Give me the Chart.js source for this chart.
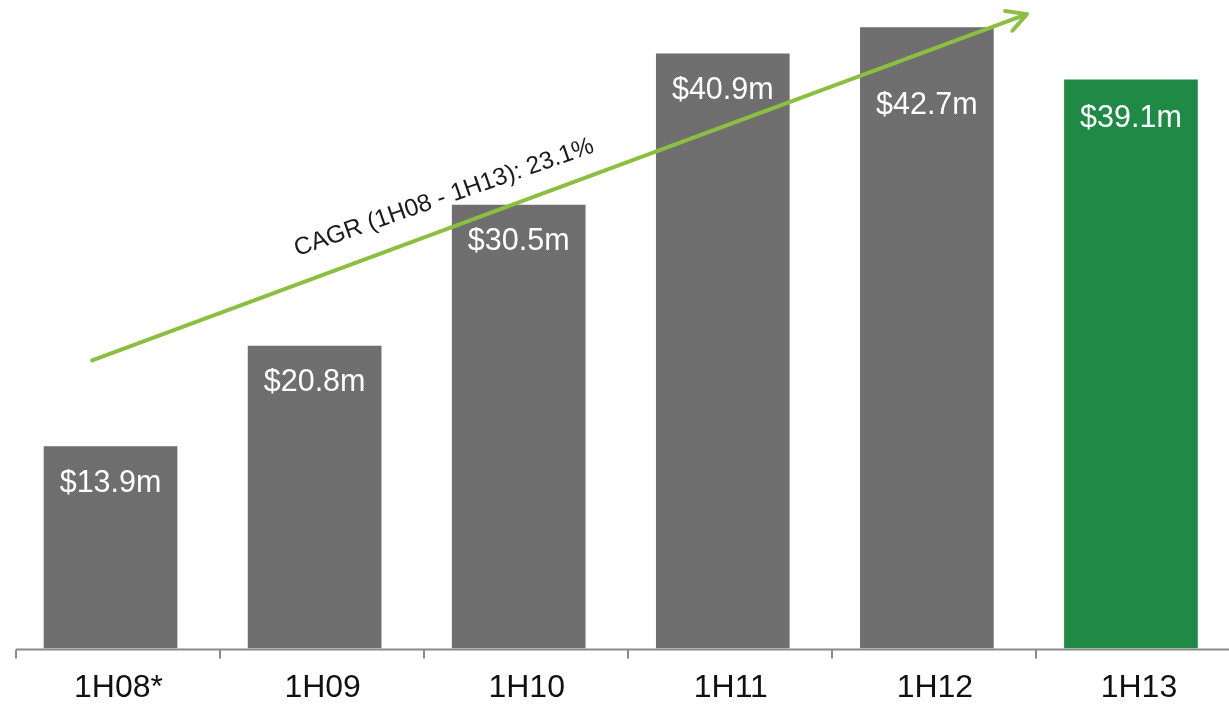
<!DOCTYPE html>
<html>
<head>
<meta charset="utf-8">
<script src="https://cdn.jsdelivr.net/npm/chart.js@4.4.1/dist/chart.umd.min.js"></script>
<style>
  html, body { margin: 0; padding: 0; background: #fff; overflow: hidden; }
  #wrap { position: relative; width: 1240px; height: 704px; }
</style>
</head>
<body>
<div id="wrap"><canvas id="revenueChart"></canvas></div>
<script>
// half-year periods and revenue ($m)
const periods = ["1H08*", "1H09", "1H10", "1H11", "1H12", "1H13"];
const revenue = [13.9, 20.8, 30.5, 40.9, 42.7, 39.1];

// growth arrow, in chart units (category index, $m)
const cagrText = "CAGR (1H08 - 1H13): 23.1%";
const cagrFrom = { x: -0.09, y: 19.8 };
const cagrTo = { x: 4.49, y: 43.6 };
const cagrLabelAt = { x: 1.645, y: 30.55 };

const GREY = "#6e6e6e";
const GREEN = "#1e8a46";
const ARROW = "#8cbf3f";

// fine dithered grey like the printed bars
function greyPattern() {
    const c = document.createElement("canvas");
    c.width = 2; c.height = 2;
    const g = c.getContext("2d");
    g.fillStyle = "#757575"; g.fillRect(0, 0, 2, 2);
    g.fillStyle = "#686868"; g.fillRect(0, 0, 1, 1); g.fillRect(1, 1, 1, 1);
    return g.createPattern(c, "repeat");
}
const pattern = greyPattern();
const barColors = revenue.map((v, i) => i === revenue.length - 1 ? GREEN : pattern);

// axis line with tick marks between periods
const axisPlugin = {
    id: "axisLine",
    afterDatasetsDraw(chart) {
        const { ctx, chartArea, scales } = chart;
        const x = scales.x;
        const step = x.getPixelForValue(1) - x.getPixelForValue(0);
        const start = x.getPixelForValue(0) - step / 2 + 7.5;
        const y = chartArea.bottom + 1;
        ctx.save();
        ctx.strokeStyle = "#8a8a8a";
        ctx.lineWidth = 2;
        ctx.beginPath();
        ctx.moveTo(start, y);
        ctx.lineTo(chart.width, y);
        for (let i = 0; i <= periods.length; i++) {
            const tx = Math.round(start + i * step);
            ctx.moveTo(tx, y);
            ctx.lineTo(tx, y + 9);
        }
        ctx.stroke();
        ctx.restore();
    }
};

// "$xx.xm" labels inside the top of each bar;
// the 1H12 label sits lower so the arrow doesn't run through it
const labelDrop = [37, 37, 37, 37, 78, 39];
const valuePlugin = {
    id: "barValues",
    afterDatasetsDraw(chart) {
        const { ctx } = chart;
        const meta = chart.getDatasetMeta(0);
        ctx.save();
        ctx.fillStyle = "#ffffff";
        ctx.font = "30.5px 'Liberation Sans', Arial, sans-serif";
        ctx.textAlign = "center";
        ctx.textBaseline = "middle";
        meta.data.forEach((bar, i) => {
            ctx.fillText("$" + revenue[i].toFixed(1) + "m", bar.x, bar.y + labelDrop[i]);
        });
        ctx.restore();
    }
};

// CAGR arrow and its label
const cagrPlugin = {
    id: "cagrArrow",
    afterDraw(chart) {
        const { ctx, scales } = chart;
        const px = p => ({ x: scales.x.getPixelForValue(p.x), y: scales.y.getPixelForValue(p.y) });
        const a = px(cagrFrom), b = px(cagrTo), t = px(cagrLabelAt);
        const ang = Math.atan2(b.y - a.y, b.x - a.x);
        ctx.save();
        ctx.strokeStyle = ARROW;
        ctx.lineWidth = 4;
        ctx.lineCap = "round";
        ctx.lineJoin = "round";
        ctx.beginPath();
        ctx.moveTo(a.x, a.y);
        ctx.lineTo(b.x, b.y);
        const head = 22, spread = 0.5;
        ctx.moveTo(b.x - head * Math.cos(ang - spread), b.y - head * Math.sin(ang - spread));
        ctx.lineTo(b.x, b.y);
        ctx.lineTo(b.x - head * Math.cos(ang + spread), b.y - head * Math.sin(ang + spread));
        ctx.stroke();

        ctx.translate(t.x, t.y);
        ctx.rotate(-19.3 * Math.PI / 180);
        ctx.fillStyle = "#1a1a1a";
        ctx.font = "24.5px 'Liberation Sans', Arial, sans-serif";
        ctx.textAlign = "center";
        ctx.textBaseline = "alphabetic";
        ctx.fillText(cagrText, 0, 0);
        ctx.restore();
    }
};

new Chart(document.getElementById("revenueChart"), {
    type: "bar",
    data: {
        labels: periods,
        datasets: [{
            data: revenue,
            backgroundColor: barColors,
            borderWidth: 0,
            categoryPercentage: 1,
            barPercentage: 0.655
        }]
    },
    options: {
        responsive: true,
        maintainAspectRatio: false,
        animation: false,
        layout: { padding: { left: 8.5, right: 7, top: 0, bottom: 0 } },
        plugins: {
            legend: { display: false },
            tooltip: { enabled: false }
        },
        scales: {
            x: {
                grid: { display: false, drawTicks: false },
                border: { display: false },
                ticks: {
                    color: "#111111",
                    padding: 20,
                    labelOffset: 8,
                    font: { family: "'Liberation Sans', Arial, sans-serif", size: 32 }
                },
                afterFit(scale) { scale.height = 55.5; }
            },
            y: {
                display: false,
                min: 0,
                max: 44.57
            }
        }
    },
    plugins: [axisPlugin, valuePlugin, cagrPlugin]
});
</script>
</body>
</html>
